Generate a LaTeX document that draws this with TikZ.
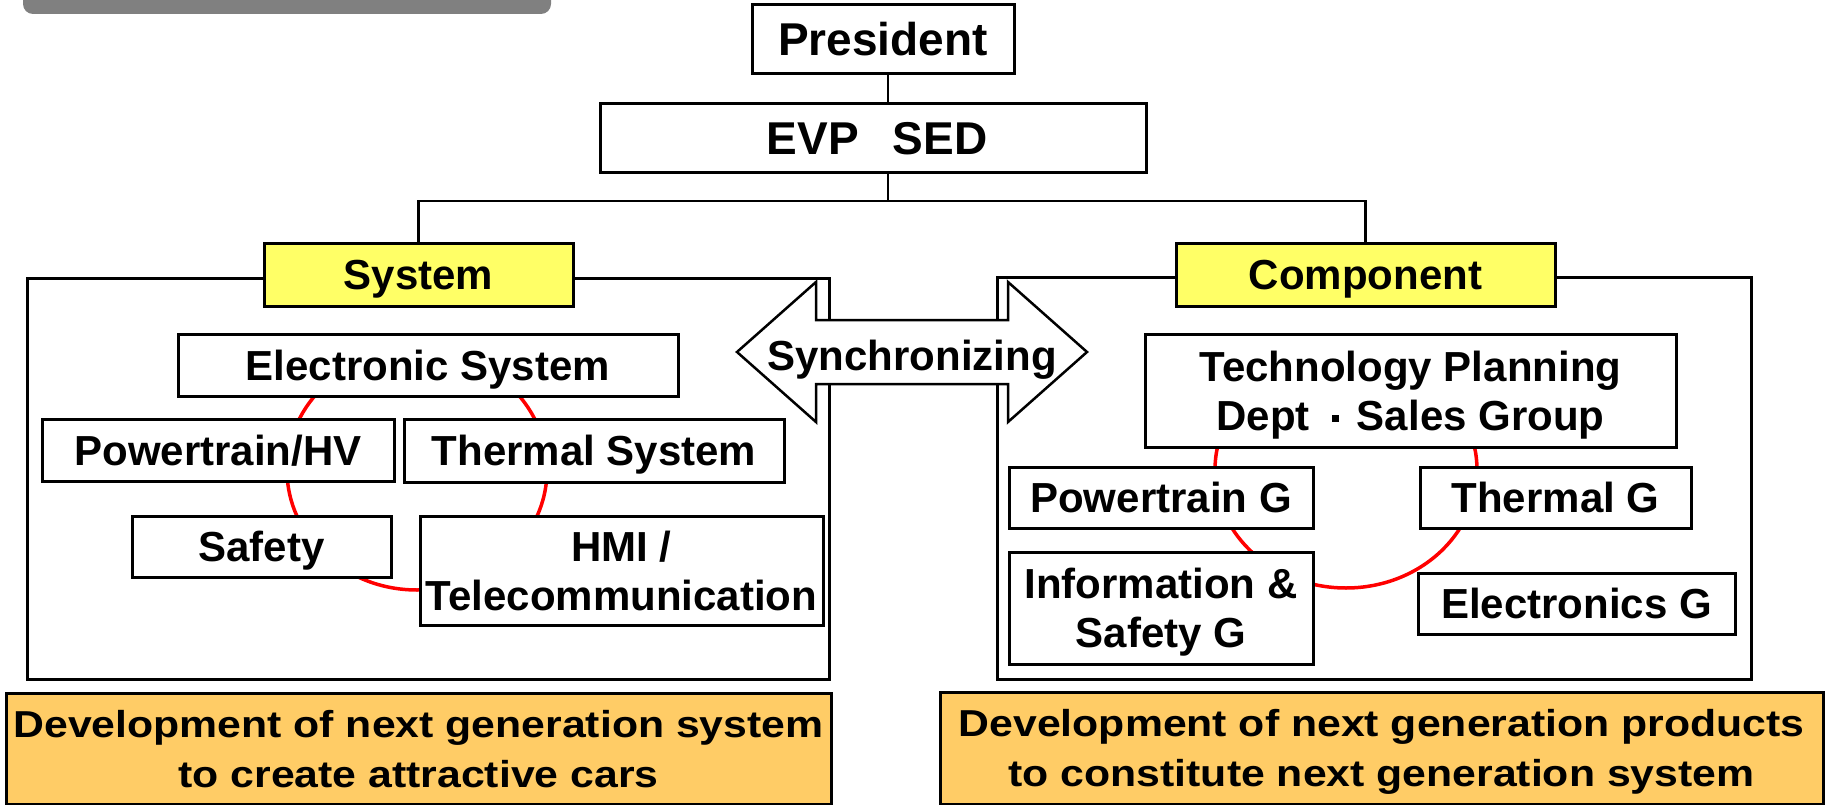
\documentclass[tikz,border=0pt]{standalone}
\usepackage{fontspec}
\setmainfont{Liberation Sans}
\newfontfamily\widefont{Liberation Sans}[FakeStretch=1.14]

\definecolor{bannergray}{RGB}{128,128,128}
\definecolor{headyellow}{RGB}{255,255,102}
\definecolor{goalorange}{RGB}{255,204,102}

\begin{document}
\begin{tikzpicture}[x=1pt, y=-1pt,
        box/.style={draw, fill=white, line width=3pt, inner sep=0pt, align=center,
            font=\bfseries\fontsize{42}{49}\selectfont},
        oneline/.style={text height=30pt, text depth=0pt},
        topbox/.style={box, oneline, text height=33pt, font=\bfseries\fontsize{46}{52}\selectfont},
        header/.style={box, oneline, fill=headyellow},
        goal/.style={box, fill=goalorange, font=\widefont\bfseries\fontsize{37.5}{50}\selectfont},
        unitframe/.style={draw, line width=3pt, inner sep=0pt},
        orgline/.style={line width=2.5pt},
        ring/.style={red, line width=3.5pt}]
        \useasboundingbox (0,0) rectangle (1825,805);
        \fill[bannergray, rounded corners=10pt] (23,-20) rectangle (551,14);

        \node[topbox, minimum width=262pt, minimum height=69pt] (pres) at (883,39.5) {President};
        \node[topbox, minimum width=546pt, minimum height=69pt] (evp) at (873,138.5) {\hspace{8pt}EVP\hspace{34pt}SED};

        \node[unitframe, minimum width=802pt, minimum height=401pt] (sysframe) at (428,478.5) {};
        \node[unitframe, minimum width=754pt, minimum height=402pt] (compframe) at (1374,478) {};

        \draw[ring] (417,470) ellipse [x radius=130pt, y radius=120pt];
        \draw[ring] (1346,470) ellipse [x radius=131pt, y radius=118pt];

        \node[header, minimum width=309pt, minimum height=63pt] (sys) at (418.5,274.5) {System};
        \node[header, minimum width=379pt, minimum height=63pt] (comp) at (1365.5,274.5) {Component};

        \coordinate (bus) at (888,201);
        \draw[orgline] (pres.south -| bus) -- (evp.north -| bus);
        \draw[orgline] (evp.south -| bus) -- (bus);
        \draw[orgline] (sys.north) |- (bus) -| (comp.north);

        % system side
        \node[box, oneline, minimum width=500pt, minimum height=62pt] (elsys) at (428,365) {Electronic System};
        \node[box, oneline, minimum width=352pt, minimum height=62pt] (ptrain) at (218,450) {Powertrain/HV};
        \node[box, oneline, minimum width=380pt, minimum height=63pt] (thermal) at (594,450.5) {Thermal System};
        \node[box, oneline, minimum width=259pt, minimum height=61pt] (safety) at (261.5,546.5) {Safety};
        \node[box, minimum width=403pt, minimum height=109pt] (hmi) at (621.5,570.5) {HMI /\\Telecommunication};

        % component side
        \node[box, text depth=0pt, minimum width=531pt, minimum height=113pt] (techplan) at (1410.5,390.5)
            {Technology Planning\\Dept\hspace{22pt}\raisebox{8pt}{\rule{7pt}{7pt}}\hspace{18pt}Sales Group};
        \node[box, oneline, minimum width=304pt, minimum height=61pt] (ptg) at (1161,497.5) {Powertrain G};
        \node[box, oneline, minimum width=271pt, minimum height=61pt] (thg) at (1555.5,497.5) {Thermal G};
        \node[box, text depth=0pt, minimum width=304pt, minimum height=112pt] (infog) at (1161,608) {Information \&\\Safety G};
        \node[box, oneline, minimum width=317pt, minimum height=61pt] (elecg) at (1576.5,603.5) {Electronics G};

        \draw[line width=2.5pt, fill=white] (737,352) -- (816,282) -- (816,320) -- (1008,320) -- (1008,282)
            -- (1087,352) -- (1008,422) -- (1008,384) -- (816,384) -- (816,422) -- cycle;
        \node[font=\bfseries\fontsize{42}{49}\selectfont, anchor=base, inner sep=0pt] (sync) at (912,370) {Synchronizing};

        \node[goal, text depth=-8pt, minimum width=825pt, minimum height=111pt] (goalsys) at (418.5,748.5)
            {Development of next generation system\\to create attractive cars};
        \node[goal, text depth=-2pt, minimum width=883pt, minimum height=112pt] (goalcomp) at (1381.5,748)
            {Development of next generation products\\to constitute next generation system};
    \end{tikzpicture}
\end{document}
